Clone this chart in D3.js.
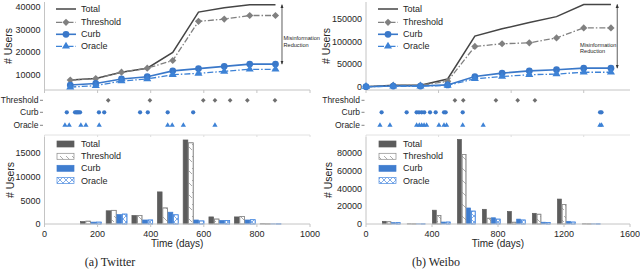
<!DOCTYPE html>
<html><head><meta charset="utf-8">
<script src="https://cdn.jsdelivr.net/npm/d3@7/dist/d3.min.js"></script>
<style>
body{margin:0;background:#fff}
svg{display:block}
text{font-family:"Liberation Sans",Arial,sans-serif;fill:#262626}
</style></head>
<body><svg id="c" width="640" height="271"></svg>
<script>
// ---------------- DATA ----------------
const seriesNames = ["Total","Threshold","Curb","Oracle"];
const eventRows = ["Threshold","Curb","Oracle"];

// Twitter cumulative (top)
const twTimes = [97,193,290,387,483,580,677,773,870];
const twTotal = [7500,8200,11000,12800,19800,37700,39600,41000,41000];
const twThreshold = [7500,8200,11000,12800,16200,33600,34600,36200,36200];
const twCurb = [5300,6000,8000,9000,11600,12600,13600,14600,14600];
const twOracle = [4400,5000,7100,8000,9900,10500,11400,12300,12300];
const twYTicks = [10000,20000,30000,40000];
const twXTopTicks = [0,200,400,600,800,1000];
// Twitter intervention events (middle)
const twThresholdEvents = [240,397,598,642,699,764,868];
const twCurbEvents = [84,115,120,124,129,134,205,225,360,389,464,560];
const twOracleEvents = [77,93,137,156,206,464,481,523,642];
// Twitter per-bin counts (bottom)
const twBinStart = [134,231,328,424,521,618,714,811];
const twBarTotal = [500,2800,1800,6800,17800,1500,1500,40];
const twBarThreshold = [600,2900,1800,3400,17200,1050,1600,30];
const twBarCurb = [400,2000,850,2500,850,750,850,20];
const twBarOracle = [400,2100,850,1950,650,750,900,20];
const twBarYTicks = [0,5000,10000,15000];
const twXTicks = [0,200,400,600,800,1000];

// Weibo cumulative (top)
const wbTimes = [0,150,300,450,600,750,900,1050,1200,1350];
const wbTotal = [0,3000,3000,17000,112000,128000,142000,155000,182000,182000];
const wbThreshold = [0,3000,3000,12000,89000,95000,97000,108000,130000,130000];
const wbCurb = [0,1500,1500,4000,22500,30000,35000,37500,41000,41000];
const wbOracle = [0,1000,1000,3000,17500,22500,26500,28000,32000,32000];
const wbYTicks = [0,50000,100000,150000];
const wbXTopTicks = [0,400,800,1200];
// Weibo intervention events (middle)
const wbThresholdEvents = [490,536,716,836,931];
const wbCurbEvents = [86,224,279,292,307,321,353,384,430,439,533,1290,1298];
const wbOracleEvents = [77,132,279,294,307,320,334,402,430,444,533,646,1289,1298];
// Weibo per-bin counts (bottom)
const wbBinStart = [97,248,400,552,703,855,1006,1158,1309];
const wbBarTotal = [3000,150,15500,95000,16500,14000,12000,28000,150];
const wbBarThreshold = [2500,150,9500,78000,6500,2000,11000,22000,150];
const wbBarCurb = [1500,100,2200,18000,7000,5500,2000,3000,100];
const wbBarOracle = [1500,100,2200,14500,5500,4500,1800,2200,100];
const wbBarYTicks = [0,20000,40000,60000,80000];
const wbXTicks = [0,400,800,1200,1600];

// ---------------- STYLE ----------------
const C = {total:"#454545", thr:"#808080", curb:"#3a78c9", oracle:"#3d82d6", spine:"#c4c4c4", barTotal:"#5c5c5c", barCurb:"#3f7dcf"};

const svg = d3.select("#c");
const defs = svg.append("defs");
const pT = defs.append("pattern").attr("id","hThr").attr("patternUnits","userSpaceOnUse").attr("width",6).attr("height",12);
pT.append("path").attr("d","M0,0L6,6").attr("stroke","#8a8a8a").attr("stroke-width",0.7).attr("fill","none");
const pO = defs.append("pattern").attr("id","hOra").attr("patternUnits","userSpaceOnUse").attr("width",6).attr("height",6);
pO.append("path").attr("d","M0,0L6,6M6,0L0,6").attr("stroke","#4a8ae0").attr("stroke-width",0.7).attr("fill","none");
const mk = defs.append("marker").attr("id","ah").attr("viewBox","0 0 10 10").attr("refX",9).attr("refY",5)
  .attr("markerWidth",5).attr("markerHeight",5).attr("orient","auto-start-reverse");
mk.append("path").attr("d","M0,1L10,5L0,9z").attr("fill","#333");

const sym = {
  diamond: (s)=>d3.symbol().type(d3.symbolSquare).size(s)(),
  circle: (s)=>d3.symbol().type(d3.symbolCircle).size(s)(),
  triangle: (s)=>d3.symbol().type(d3.symbolTriangle).size(s)()
};

function drawPanel(p){
  const g = svg.append("g");
  const xTop = d3.scaleLinear().domain(p.topDomain).range([p.x0,p.x1]);
  const xBot = d3.scaleLinear().domain(p.botDomain).range([p.x0,p.x1]);
  const yTop = d3.scaleLinear().domain(p.yTopDomain).range([90,2]);
  const yBot = d3.scaleLinear().domain([0,p.yBotMax]).range([224,137]);

  // ---- top spines
  g.append("line").attr("x1",p.x0).attr("x2",p.x0).attr("y1",2).attr("y2",90).attr("stroke",C.spine);
  g.append("line").attr("x1",p.x0).attr("x2",p.x1).attr("y1",90).attr("y2",90).attr("stroke",C.spine);
  g.selectAll(null).data(p.xTopTicks).join("line")
    .attr("x1",d=>xTop(d)).attr("x2",d=>xTop(d)).attr("y1",90).attr("y2",93).attr("stroke",C.spine);
  g.selectAll(null).data(p.yTicks).join("text")
    .attr("x",p.x0-4).attr("y",d=>yTop(d)).attr("dy","0.35em").attr("text-anchor","end")
    .attr("font-size",9).text(d=>d);
  g.append("text").attr("transform",`translate(${p.ylabX},46) rotate(-90)`).attr("text-anchor","middle")
    .attr("dy","0.35em").attr("font-size",10.5).text("# Users");

  // ---- lines
  const series = [
    {vals:p.total, color:C.total, dash:null, w:1.5, m:null},
    {vals:p.threshold, color:C.thr, dash:"6,2,1.5,2", w:1.3, m:"diamond"},
    {vals:p.curb, color:C.curb, dash:null, w:1.6, m:"circle"},
    {vals:p.oracle, color:C.oracle, dash:"6,2,1.5,2", w:1.3, m:"triangle"}
  ];
  const msz = {diamond:26, circle:36, triangle:28};
  series.forEach(s=>{
    const line = d3.line().x((d,i)=>xTop(p.times[i])).y(d=>yTop(d));
    g.append("path").attr("d",line(s.vals)).attr("fill","none").attr("stroke",s.color)
      .attr("stroke-width",s.w).attr("stroke-dasharray",s.dash);
    if(s.m){
      g.selectAll(null).data(s.vals).join("path").attr("d",sym[s.m](msz[s.m]))
        .attr("transform",(d,i)=>`translate(${xTop(p.times[i])},${yTop(d)})`+(s.m==="diamond"?" rotate(45)":""))
        .attr("fill",s.color);
    }
  });
  // legend top
  const ly = [9,22.3,34.3,46.3];
  series.forEach((s,i)=>{
    g.append("line").attr("x1",p.legX).attr("x2",p.legX+20).attr("y1",ly[i]).attr("y2",ly[i])
      .attr("stroke",s.color).attr("stroke-width",s.w).attr("stroke-dasharray",s.dash);
    if(s.m) g.append("path").attr("d",sym[s.m](msz[s.m]))
      .attr("transform",`translate(${p.legX+10},${ly[i]})`+(s.m==="diamond"?" rotate(45)":"")).attr("fill",s.color);
    g.append("text").attr("x",p.legX+25).attr("y",ly[i]).attr("dy","0.35em").attr("font-size",9).text(seriesNames[i]);
  });
  // arrow
  const lastT = p.times[p.times.length-1];
  const ax = xTop(lastT)+p.arrowOff;
  g.append("line").attr("x1",ax).attr("x2",ax)
    .attr("y1",yTop(p.total[p.total.length-1])).attr("y2",yTop(p.curb[p.curb.length-1]))
    .attr("stroke","#333").attr("stroke-width",0.8).attr("marker-start","url(#ah)").attr("marker-end","url(#ah)");
  g.append("text").attr("x",p.mtX).attr("y",p.mtY).attr("font-size",5.6).text("Misinformation");
  g.append("text").attr("x",p.mtX).attr("y",p.mtY+6.3).attr("font-size",5.6).text("Reduction");

  // ---- middle events
  const rowY = {Threshold:100.3, Curb:112.3, Oracle:125.3};
  eventRows.forEach(r=>{
    g.append("text").attr("x",p.x0-6).attr("y",rowY[r]).attr("dy","0.35em").attr("text-anchor","end")
      .attr("font-size",8.5).text(r);
    g.append("line").attr("x1",p.x0-4.5).attr("x2",p.x0-1.5).attr("y1",rowY[r]).attr("y2",rowY[r]).attr("stroke","#666").attr("stroke-width",0.8);
  });
  const ev = [
    {row:"Threshold", vals:p.thrEv, m:"diamond", c:"#6f6f6f", s:11},
    {row:"Curb", vals:p.curbEv, m:"circle", c:C.curb, s:14},
    {row:"Oracle", vals:p.oraEv, m:"triangle", c:C.oracle, s:12}
  ];
  ev.forEach(e=>{
    g.selectAll(null).data(e.vals).join("path").attr("d",sym[e.m](e.s))
      .attr("transform",d=>`translate(${xTop(d)},${rowY[e.row]})`+(e.m==="diamond"?" rotate(45)":""))
      .attr("fill",e.c);
  });
  g.append("line").attr("x1",p.x0).attr("x2",p.x1).attr("y1",135).attr("y2",135).attr("stroke","#e2e2e2");
  g.selectAll(null).data(p.xTopTicks).join("line")
    .attr("x1",d=>xTop(d)).attr("x2",d=>xTop(d)).attr("y1",135).attr("y2",137).attr("stroke","#dedede");

  // ---- bars
  const barSets = [
    {vals:p.bTotal, fill:C.barTotal, stroke:C.barTotal, hatch:false},
    {vals:p.bThr, fill:"url(#hThr)", stroke:"#8a8a8a", hatch:true},
    {vals:p.bCurb, fill:C.barCurb, stroke:C.barCurb, hatch:false},
    {vals:p.bOra, fill:"url(#hOra)", stroke:"#4a8ae0", hatch:true}
  ];
  barSets.forEach((b,k)=>{
    const bx = (d,i)=>xBot(p.binStart[i]+k*p.barW)+0.35;
    const bw = (d,i)=>xBot(p.binStart[i]+(k+1)*p.barW)-xBot(p.binStart[i]+k*p.barW)-0.7;
    g.selectAll(null).data(b.vals).join("rect")
      .attr("x",bx).attr("width",bw)
      .attr("y",d=>yBot(d)).attr("height",d=>224-yBot(d))
      .attr("fill",b.hatch?"#fff":b.fill).attr("stroke",b.stroke).attr("stroke-width",0.7);
    if(b.hatch){
      g.selectAll(null).data(b.vals).join("rect")
        .attr("x",bx).attr("width",bw)
        .attr("y",d=>yBot(d)).attr("height",d=>224-yBot(d))
        .attr("fill",b.fill).attr("stroke",b.stroke).attr("stroke-width",0.7);
    }
  });
  g.append("line").attr("x1",p.x0).attr("x2",p.x0).attr("y1",137).attr("y2",224).attr("stroke",C.spine);
  g.append("line").attr("x1",p.x0).attr("x2",p.x1).attr("y1",224).attr("y2",224).attr("stroke",C.spine);
  g.selectAll(null).data(p.xTicks).join("line")
    .attr("x1",d=>xBot(d)).attr("x2",d=>xBot(d)).attr("y1",224).attr("y2",227).attr("stroke",C.spine);
  g.selectAll(null).data(p.xTicks).join("text")
    .attr("x",d=>xBot(d)).attr("y",236.5).attr("text-anchor","middle").attr("font-size",9).text(d=>d);
  g.selectAll(null).data(p.barYTicks).join("text")
    .attr("x",p.x0-4).attr("y",d=>yBot(d)).attr("dy","0.35em").attr("text-anchor","end")
    .attr("font-size",9).text(d=>d);
  g.append("text").attr("transform",`translate(${p.ylabX+2},180) rotate(-90)`).attr("text-anchor","middle")
    .attr("dy","0.35em").attr("font-size",10.5).text("# Users");
  g.append("text").attr("x",(p.x0+p.x1)/2).attr("y",247).attr("text-anchor","middle").attr("font-size",10).text("Time (days)");
  // bar legend
  const by = [144,156.3,168.3,180.5];
  barSets.forEach((b,k)=>{
    g.append("rect").attr("x",p.legX+1).attr("y",by[k]-3).attr("width",17).attr("height",6)
      .attr("fill",b.fill).attr("stroke",b.stroke).attr("stroke-width",0.7);
    g.append("text").attr("x",p.legX+25).attr("y",by[k]).attr("dy","0.35em").attr("font-size",9).text(seriesNames[k]);
  });
  // caption
  g.append("text").attr("x",p.capX).attr("y",266).attr("text-anchor","middle")
    .style("font-family","'Liberation Serif','DejaVu Serif',serif").attr("font-size",12).text(p.caption);
}

drawPanel({
  x0:44.5, x1:310, topDomain:[0,1000], botDomain:[0,1000], yTopDomain:[3100,42200], yBotMax:18430,
  times:twTimes, total:twTotal, threshold:twThreshold, curb:twCurb, oracle:twOracle,
  yTicks:twYTicks, xTopTicks:twXTopTicks, thrEv:twThresholdEvents, curbEv:twCurbEvents, oraEv:twOracleEvents,
  binStart:twBinStart, barW:20.2, bTotal:twBarTotal, bThr:twBarThreshold, bCurb:twBarCurb, bOra:twBarOracle,
  barYTicks:twBarYTicks, xTicks:twXTicks, legX:56, ylabX:8, arrowOff:6.5, mtX:283.5, mtY:40.3,
  caption:"(a) Twitter", capX:110
});
drawPanel({
  x0:366, x1:630, topDomain:[0,1455], botDomain:[0,1600], yTopDomain:[-7300,187400], yBotMax:97750,
  times:wbTimes, total:wbTotal, threshold:wbThreshold, curb:wbCurb, oracle:wbOracle,
  yTicks:wbYTicks, xTopTicks:wbXTopTicks, thrEv:wbThresholdEvents, curbEv:wbCurbEvents, oraEv:wbOracleEvents,
  binStart:wbBinStart, barW:28, bTotal:wbBarTotal, bThr:wbBarThreshold, bCurb:wbBarCurb, bOra:wbBarOracle,
  barYTicks:wbBarYTicks, xTicks:wbXTicks, legX:378, ylabX:326, arrowOff:6.3, mtX:580, mtY:47,
  caption:"(b) Weibo", capX:436
});
</script></body></html>
